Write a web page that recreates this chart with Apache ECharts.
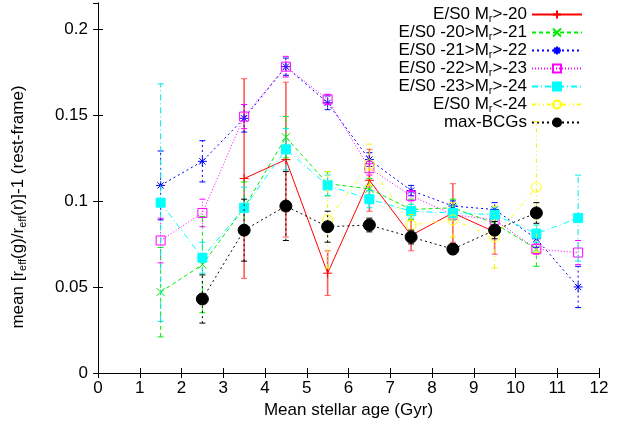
<!DOCTYPE html>
<html>
<head>
<meta charset="utf-8">
<script src="https://cdn.jsdelivr.net/npm/echarts@6/dist/echarts.min.js"></script>
<style>
  html, body { margin: 0; padding: 0; background: #fff; }
  #chart { width: 618px; height: 435px; }
</style>
</head>
<body>
<div id="chart"></div>
<script>
// Age bins (Gyr), bin centres
const ages = [1.5, 2.5, 3.5, 4.5, 5.5, 6.5, 7.5, 8.5, 9.5, 10.5, 11.5];

// Mean colour gradient per luminosity class, with 1-sigma errors
const esMrGt20   = [null, null, 0.113, 0.124, 0.058, 0.112, 0.080, 0.093, 0.082, null, null];
const esMrGt20E  = [null, null, 0.058, 0.045, 0.013, 0.018, 0.009, 0.017, 0.013, null, null];

const esMr20to21  = [0.047, 0.063, 0.096, 0.137, 0.110, 0.107, 0.095, 0.096, 0.087, 0.072, null];
const esMr20to21E = [0.026, 0.028, 0.015, 0.012, 0.007, 0.006, 0.006, 0.005, 0.006, 0.010, null];

const esMr21to22  = [0.109, 0.123, 0.148, 0.178, 0.157, 0.124, 0.106, 0.097, 0.095, 0.078, 0.050];
const esMr21to22E = [0.020, 0.012, 0.008, 0.005, 0.004, 0.004, 0.003, 0.003, 0.004, 0.005, 0.012];

const esMr22to23  = [0.077, 0.093, 0.149, 0.178, 0.159, 0.119, 0.103, 0.092, 0.089, 0.072, 0.070];
const esMr22to23E = [0.013, 0.008, 0.007, 0.006, 0.003, 0.004, 0.003, 0.003, 0.003, 0.003, 0.007];

const esMr23to24  = [0.099, 0.067, 0.096, 0.130, 0.109, 0.101, 0.094, 0.093, 0.092, 0.081, 0.090];
const esMr23to24E = [0.069, 0.009, 0.012, 0.012, 0.006, 0.005, 0.004, 0.004, 0.004, 0.005, 0.025];

const esMrLt24   = [null, null, null, null, 0.089, 0.121, 0.086, 0.089, 0.079, 0.108, null];
const esMrLt24E  = [null, null, null, null, 0.028, 0.012, 0.006, 0.010, 0.018, 0.038, null];

const maxBCG     = [null, 0.043, 0.083, 0.097, 0.085, 0.086, 0.079, 0.072, 0.083, 0.093, null];
const maxBCGE    = [null, 0.014, 0.018, 0.020, 0.009, 0.004, 0.004, 0.003, 0.005, 0.006, null];

const xTicks = [0, 1, 2, 3, 4, 5, 6, 7, 8, 9, 10, 11, 12];
const yTicks = [0, 0.05, 0.1, 0.15, 0.2];

// Series names (rich-text labels are built from these in the legend formatter)
const names = ['E/S0 Mr>-20', 'E/S0 -20>Mr>-21', 'E/S0 -21>Mr>-22', 'E/S0 -22>Mr>-23',
               'E/S0 -23>Mr>-24', 'E/S0 Mr<-24', 'max-BCGs'];

const PLUS  = 'path://M0,5L10,5M5,0L5,10';
const CROSS = 'path://M0,0L10,10M10,0L0,10';
const STAR  = 'path://M0,5L10,5M5,0L5,10M1.5,1.5L8.5,8.5M8.5,1.5L1.5,8.5';

const styles = [
  { color: '#ff0000', dash: 'solid',       symbol: PLUS,     size: 9,  fill: 'none',     errColor: '#ff5a5a', errWidth: 1.6 },
  { color: '#00ee00', dash: [4, 3],        symbol: CROSS,    size: 8,  fill: 'none',     errColor: '#00ee00', errWidth: 1 },
  { color: '#0000ff', dash: [2, 3],        symbol: STAR,     size: 9,  fill: 'none',     errColor: '#0000ff', errWidth: 1 },
  { color: '#ff00ff', dash: [1, 2],        symbol: 'rect',   size: 9,  fill: 'none',     errColor: '#ff00ff', errWidth: 1 },
  { color: '#00ffff', dash: [6, 3, 1, 3],  symbol: 'rect',   size: 9,  fill: '#00ffff',  errColor: '#00e8e8', errWidth: 1 },
  { color: '#ffff00', dash: [4, 3, 1, 3, 1, 3], symbol: 'circle', size: 10, fill: 'none', errColor: '#f0f000', errWidth: 1 },
  { color: '#000000', dash: [2, 3],        symbol: 'circle', size: 12, fill: '#000000',  errColor: '#000000', errWidth: 1 }
];

const values = [esMrGt20, esMr20to21, esMr21to22, esMr22to23, esMr23to24, esMrLt24, maxBCG];
const errors = [esMrGt20E, esMr20to21E, esMr21to22E, esMr22to23E, esMr23to24E, esMrLt24E, maxBCGE];

const series = [];
values.forEach((vals, i) => {
  const st = styles[i];
  const errData = [];
  vals.forEach((v, j) => {
    if (v !== null) errData.push([ages[j], v - errors[i][j], v + errors[i][j]]);
  });
  // error bars with caps
  series.push({
    type: 'custom',
    name: 'err' + i,
    data: errData,
    encode: { x: 0, y: [1, 2] },
    silent: true,
    z: 2 + i,
    renderItem: (params, api) => {
      const x = api.value(0);
      const lo = api.coord([x, api.value(1)]);
      const hi = api.coord([x, api.value(2)]);
      const cap = 3;
      const s = {
        stroke: st.errColor, lineWidth: st.errWidth,
        lineDash: st.dash === 'solid' ? null : st.dash
      };
      return {
        type: 'group',
        children: [
          { type: 'line', shape: { x1: lo[0], y1: lo[1], x2: hi[0], y2: hi[1] }, style: s },
          { type: 'line', shape: { x1: lo[0] - cap, y1: lo[1], x2: lo[0] + cap, y2: lo[1] }, style: { stroke: st.errColor, lineWidth: 1 } },
          { type: 'line', shape: { x1: hi[0] - cap, y1: hi[1], x2: hi[0] + cap, y2: hi[1] }, style: { stroke: st.errColor, lineWidth: 1 } }
        ]
      };
    }
  });
  series.push({
    type: 'line',
    name: names[i],
    data: vals.map((v, j) => [ages[j], v]),
    connectNulls: false,
    symbol: st.symbol,
    symbolSize: st.size,
    showSymbol: true,
    z: 2 + i,
    lineStyle: { color: st.color, width: 1, type: st.dash },
    itemStyle: { color: st.fill, borderColor: st.color, borderWidth: 1 },
    emphasis: { disabled: true },
    animation: false
  });
});

const subLabel = name => {
  const k = name.indexOf('Mr');
  if (k < 0) return '{a|' + name + '}';
  return '{a|' + name.slice(0, k + 1) + '}{s|r}{a|' + name.slice(k + 2) + '}';
};

const legendRows = [16, 34, 52, 70, 88, 106, 124];
const legends = names.map((n, i) => ({
  data: [n],
  orient: 'vertical',
  right: 35,
  top: legendRows[i] - 10,
  align: 'right',
  padding: 0,
  itemWidth: 50,
  itemHeight: 10,
  selectedMode: false,
  formatter: subLabel,
  textStyle: {
    rich: {
      a: { fontFamily: 'Liberation Sans', fontSize: 17, color: '#000', lineHeight: 20 },
      s: { fontFamily: 'Liberation Sans', fontSize: 11, color: '#000', lineHeight: 20, verticalAlign: 'bottom', padding: [7, 0, 0, 0] }
    }
  }
}));

const font = { fontFamily: 'Liberation Sans', fontSize: 17, color: '#000' };

const option = {
  animation: false,
  backgroundColor: '#fff',
  grid: { left: 98, right: 19, top: 3, bottom: 62, containLabel: false },
  legend: legends,
  xAxis: [
    {
      type: 'value', min: xTicks[0], max: xTicks[xTicks.length - 1], interval: 1,
      name: 'Mean stellar age (Gyr)', nameLocation: 'middle', nameGap: 27,
      nameTextStyle: font,
      axisLine: { show: true, lineStyle: { color: '#000', width: 1 } },
      axisTick: { show: true, inside: true, length: 5, lineStyle: { color: '#000' } },
      axisLabel: { ...font, margin: 7, formatter: v => String(v) },
      splitLine: { show: false }
    },
    {
      type: 'value', position: 'top', min: xTicks[0], max: xTicks[xTicks.length - 1], interval: 1,
      axisLine: { show: true, lineStyle: { color: '#000', width: 1 } },
      axisTick: { show: true, inside: true, length: 5, lineStyle: { color: '#000' } },
      axisLabel: { show: false },
      splitLine: { show: false }
    }
  ],
  yAxis: [
    {
      type: 'value', min: 0, max: 0.215, interval: 0.05,
      name: '{a|mean [r}{s|eff}{a|(g)/r}{s|eff}{a|(r)]-1 (rest-frame)}',
      nameLocation: 'middle', nameGap: 70,
      nameTextStyle: {
        padding: [0, 38, 0, 0],
        rich: {
          a: { fontFamily: 'Liberation Sans', fontSize: 17, color: '#000', lineHeight: 20 },
          s: { fontFamily: 'Liberation Sans', fontSize: 11, color: '#000', lineHeight: 20, verticalAlign: 'bottom', padding: [7, 0, 0, 0] }
        }
      },
      axisLine: { show: true, lineStyle: { color: '#000', width: 1 } },
      axisTick: { show: true, inside: true, length: 5, lineStyle: { color: '#000' } },
      axisLabel: {
        ...font, margin: 10, showMaxLabel: false,
        formatter: v => (yTicks.some(t => Math.abs(t - v) < 1e-9) ? String(+v.toFixed(2)) : '')
      },
      splitLine: { show: false }
    },
    {
      type: 'value', position: 'right', min: 0, max: 0.215, interval: 0.05,
      axisLine: { show: true, lineStyle: { color: '#000', width: 1 } },
      axisTick: { show: true, inside: true, length: 5, lineStyle: { color: '#000' } },
      axisLabel: { show: false },
      splitLine: { show: false }
    }
  ],
  series: series
};

const chart = echarts.init(document.getElementById('chart'), null, { renderer: 'canvas' });
chart.setOption(option);
</script>
</body>
</html>
